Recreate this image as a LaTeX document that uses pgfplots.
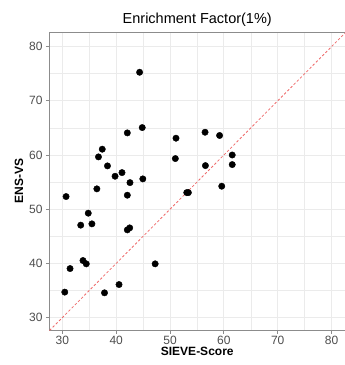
\documentclass[border=0pt]{standalone}
\usepackage{pgfplots}
\pgfplotsset{compat=1.18}
\usepackage{fontspec}
\setmainfont{Liberation Sans}
\definecolor{gridgray}{HTML}{EBEBEB}
\definecolor{framegray}{HTML}{8C8C8C}
\definecolor{ticktext}{HTML}{4D4D4D}
\definecolor{refred}{HTML}{EE6A6A}
\begin{document}
\begin{tikzpicture}
\path[use as bounding box] (-49.5pt,-35pt) rectangle (295.5pt,330pt);
\begin{axis}[
  at={(0,0)}, anchor=south west,
  scale only axis, width=295.5pt, height=298pt,
  xmin=27.6, xmax=82.5, ymin=27.7, ymax=82.7,
  xtick={30,40,...,80}, ytick={30,40,...,80},
  minor xtick={35,45,...,75}, minor ytick={35,45,...,75},
  grid=both,
  major grid style={draw=gridgray, line width=0.8pt},
  minor grid style={draw=gridgray, line width=0.5pt},
  axis line style={draw=framegray, line width=0.8pt},
  tick align=outside, tick pos=left,
  major tick length=3.5pt, minor tick length=0pt,
  tick style={draw=framegray, line width=0.8pt},
  ticklabel style={font=\fontsize{12}{14}\selectfont, text=ticktext},
  xticklabel style={yshift=1pt},
  /pgf/number format/assume math mode=true,
  title={Enrichment Factor(1\%)},
  title style={font=\fontsize{14.5}{16}\selectfont, yshift=-4pt},
  xlabel={\textbf{SIEVE-Score}},
  ylabel={\textbf{ENS-VS}},
  xlabel style={font=\fontsize{12}{14}\selectfont, yshift=4pt},
  ylabel style={font=\fontsize{12}{14}\selectfont, yshift=-1pt},
  clip=true,
]
% y = x reference line
\addplot[refred, line width=0.8pt, dash pattern=on 2.5pt off 2pt] coordinates {(27.6,27.6) (82.7,82.7)};
% compounds
\addplot[only marks, mark=*, mark size=3.2pt, black] coordinates {
  (44.34,75.27) (44.83,65.06) (42.06,64.08) (51.10,63.10) (56.50,64.20)
  (59.20,63.60) (37.40,61.07) (36.70,59.65) (61.55,60.00) (50.98,59.34)
  (38.37,57.99) (56.57,58.04) (61.55,58.23) (41.07,56.75) (39.78,56.08)
  (44.94,55.59) (42.55,54.90) (36.40,53.75) (59.60,54.24) (53.10,53.06)
  (53.40,53.06) (42.06,52.58) (30.68,52.33) (34.80,49.26) (33.40,47.05)
  (35.48,47.29) (42.06,46.18) (42.50,46.55) (33.82,40.52) (34.43,39.91)
  (31.42,39.04) (47.23,39.91) (40.52,36.09) (30.44,34.69) (37.82,34.56)
};
\end{axis}
\end{tikzpicture}
\end{document}
